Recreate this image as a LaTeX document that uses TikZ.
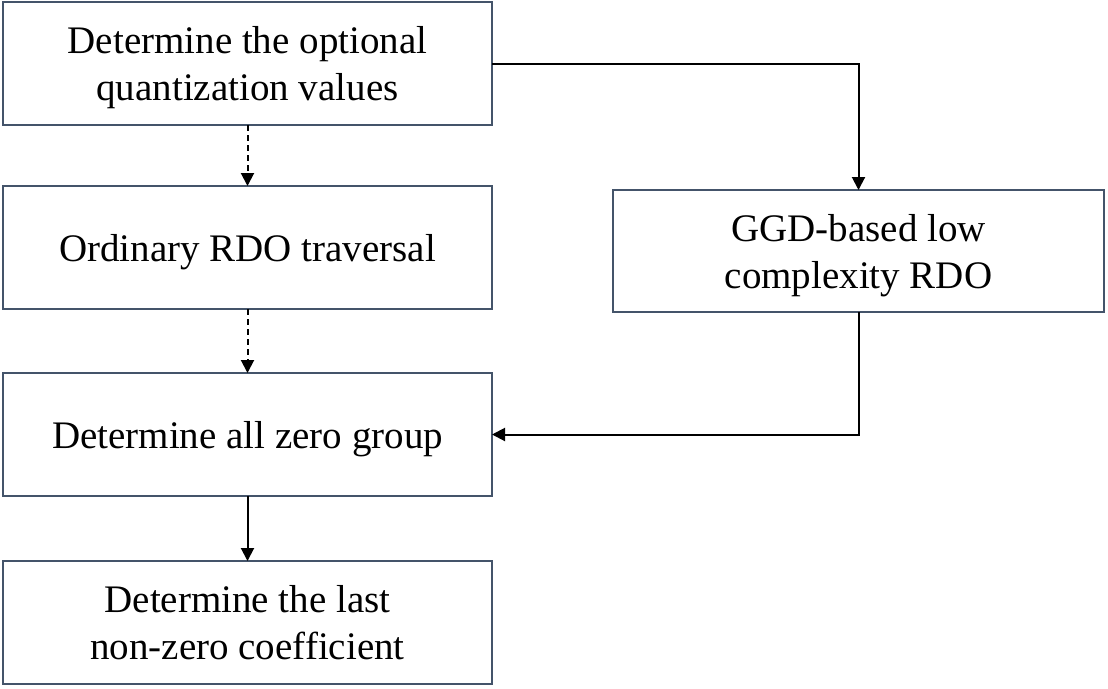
\documentclass[tikz,border=0pt]{standalone}
\usepackage{fontspec}
\setmainfont{Liberation Serif}
\usetikzlibrary{arrows.meta}
\usetikzlibrary{positioning}

\definecolor{boxline}{RGB}{68,84,106}

\tikzset{
  stepbox/.style={draw=boxline, line width=2pt, minimum width=489pt, minimum height=123pt,
    align=center, font=\fontsize{39}{47}\selectfont, inner sep=0pt, outer sep=0pt, text depth=0pt},
  flow/.style={-{Triangle[length=13pt,width=13pt]}, line width=2pt},
  flowdash/.style={flow, dash pattern=on 6pt off 4pt}
}

\begin{document}
\begin{tikzpicture}[>=Latex, node distance=61pt and 121pt]
	\useasboundingbox (0,0) rectangle (1108pt,-688pt);
	% left column
	\node (quant) [stepbox] at (247.5pt,-63.5pt) {Determine the optional\\quantization values};
	\node (ordin) [stepbox, below=of quant] {Ordinary RDO traversal};
	\node (zero) [stepbox, below=64pt of ordin] {Determine all zero group};
	\node (last) [stepbox, below=65pt of zero] {Determine the last\\non-zero coefficient};
	
	% right box
	\node (ggd) [stepbox, minimum width=491pt, minimum height=122pt, right=of ordin, yshift=-3.5pt] {GGD-based low\\complexity RDO};
	
	% arrows down the left column
	\draw[flowdash] (quant) -- (ordin);
	\draw[flowdash] (ordin) -- (zero);
	\draw[flow] (zero) -- (last);
	
	% arrows through the right box
	\draw[flow] (quant.east) -| (ggd.north);
	\draw[flow] (ggd.south) |- (zero.east);
\end{tikzpicture}
\end{document}
